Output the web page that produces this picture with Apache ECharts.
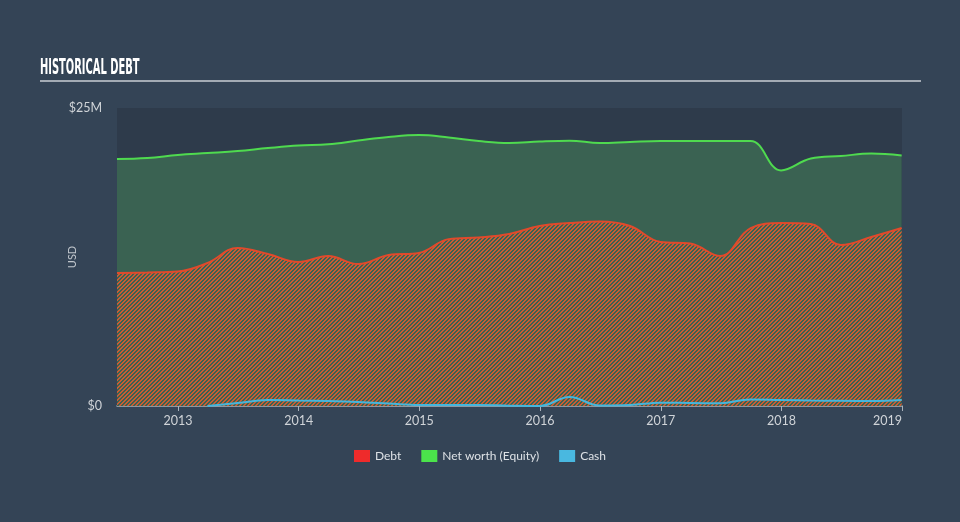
<!DOCTYPE html>
<html>
<head>
<meta charset="utf-8">
<script src="https://cdn.jsdelivr.net/npm/echarts@6/dist/echarts.min.js"></script>
<style>
html,body{margin:0;padding:0;background:#344456;}
#c{width:960px;height:522px;}
</style>
</head>
<body>
<div id="c"></div>
<script>
const dates = ['2012-06-30','2012-09-30','2012-12-31','2013-03-31','2013-06-30','2013-09-30','2013-12-31',
  '2014-03-31','2014-06-30','2014-09-30','2014-12-31','2015-03-31','2015-06-30','2015-09-30','2015-12-31',
  '2016-03-31','2016-06-30','2016-09-30','2016-12-31','2017-03-31','2017-06-30','2017-09-30','2017-12-31',
  '2018-03-31','2018-06-30','2018-09-30','2018-12-31'];
const debt = [11.16,11.2,11.28,12.0,13.26,12.75,12.08,12.58,11.91,12.67,12.84,14.0,14.14,14.43,15.1,
  15.35,15.48,15.1,13.76,13.63,12.58,14.93,15.35,15.27,13.5,14.18,14.93];
const equity = [20.72,20.8,21.06,21.22,21.39,21.64,21.85,21.95,22.27,22.57,22.73,22.53,22.23,22.06,22.19,
  22.26,22.06,22.15,22.23,22.23,22.23,22.23,19.76,20.76,20.97,21.18,21.02];
const cash = [null,null,null,0,0.25,0.5,0.46,0.42,0.34,0.21,0.08,0.08,0.08,0.03,0,
  0.75,0.04,0.08,0.28,0.25,0.23,0.55,0.5,0.46,0.44,0.42,0.5];
const yearTicks = ['2013-01-01','2014-01-01','2015-01-01','2016-01-01','2017-01-01','2018-01-01','2019-01-01'];

const ts = d => Date.UTC(+d.slice(0,4), +d.slice(5,7)-1, +d.slice(8,10));
function pair(arr){ return dates.map((d,i)=>[ts(d), arr[i]]); }
const tickVals = yearTicks.map(ts);

// hatch pattern (pixel diagonal stripes)
const pc = document.createElement('canvas');
pc.width = 4; pc.height = 4;
const g = pc.getContext('2d');
g.fillStyle = '#c95c33';
for (let y=0; y<4; y++) for (let x=0; x<4; x++) {
  if (((x + y) % 4) < 2) g.fillRect(x, y, 1, 1);
}

const chart = echarts.init(document.getElementById('c'), null, {renderer:'canvas'});
chart.setOption({
  backgroundColor:'#344456',
  animation:false,
  graphic:[
    {type:'text', left:40, top:57, scaleX:0.5, style:{text:'HISTORICAL DEBT', fill:'#ffffff',
      font:'bold 22px "Liberation Sans Narrow", "DejaVu Sans Condensed", sans-serif'}},
    {type:'line', shape:{x1:40,y1:81,x2:921,y2:81}, style:{stroke:'#a3abb4', lineWidth:2}}
  ],
  legend:{
    data:['Debt','Net worth (Equity)','Cash'],
    bottom:55, left:'center', icon:'rect', itemWidth:16, itemHeight:12, itemGap:20,
    textStyle:{color:'#dde1e5', fontSize:12, fontFamily:'Lato, "Noto Sans", sans-serif'}
  },
  grid:{left:117, right:58, top:108, bottom:116, show:true, backgroundColor:'#2e3b4b', borderWidth:0},
  xAxis:{
    type:'value',
    min: ts('2012-06-30'), max: ts('2019-01-01'),
    axisLine:{lineStyle:{color:'#aab2bb', width:1.5}},
    axisTick:{show:true, length:5, lineStyle:{color:'#aab2bb'}, customValues: tickVals},
    axisLabel:{color:'#d0d4d8', fontSize:12.5, margin:8, fontFamily:'Lato, "Noto Sans", sans-serif',
      customValues: tickVals,
      formatter: v => String(new Date(v).getUTCFullYear()), alignMaxLabel:'right'},
    splitLine:{show:false}
  },
  yAxis:{
    type:'value', min:0, max:25, interval:25,
    name:'USD', nameLocation:'middle', nameGap:39, nameRotate:90, nameMoveOverlap:false,
    nameTextStyle:{color:'#c0c6cc', fontSize:11, fontFamily:'Lato, "Noto Sans", sans-serif'},
    axisLine:{show:false}, axisTick:{show:false}, splitLine:{show:false},
    axisLabel:{color:'#d0d4d8', fontSize:12.5, margin:15, fontFamily:'Lato, "Noto Sans", sans-serif',
      formatter: v => v===0 ? '$0' : '$'+v+'M'}
  },
  series:[
    {name:'Net worth (Equity)', type:'line', data:pair(equity), smooth:0.4, showSymbol:false, z:2,
      itemStyle:{color:'#4be34b'}, lineStyle:{color:'#4fda4f', width:2},
      areaStyle:{color:'#3a6252', opacity:1}},
    {name:'Debt', type:'line', data:pair(debt), smooth:0.4, showSymbol:false, z:3,
      itemStyle:{color:'#ee2b2b'}, lineStyle:{color:'#e04a2c', width:2},
      areaStyle:{color:{image:pc, repeat:'repeat'}, opacity:1}},
    {name:'Cash', type:'line', data:pair(cash), smooth:0.4, showSymbol:false, z:4, connectNulls:false,
      itemStyle:{color:'#49b8e0'}, lineStyle:{color:'#46b6dc', width:2}}
  ]
});
</script>
</body>
</html>
